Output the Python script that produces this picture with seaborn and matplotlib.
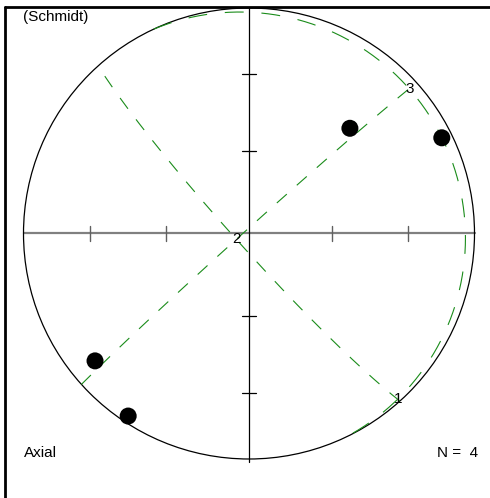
import numpy as np
import pandas as pd
import matplotlib
matplotlib.use("Agg")
import matplotlib.pyplot as plt
import seaborn as sns
from matplotlib.lines import Line2D
from matplotlib.patches import Circle

# --- data (trend / plunge in degrees, lower hemisphere) ---
point_trend = [43.8, 63.6, 230.4, 213.5]
point_plunge = [35.6, 5.1, 12.4, 3.3]

eig_labels = ["1", "2", "3"]
eig_trend = [138.0, 245.0, 48.0]
eig_plunge = [1.5, 85.0, 4.8]

tick_plunges = [60, 30]  # reference ticks along the N-S / E-W diameters

sns.set_style("white")
plt.rcParams['font.family'] = ['Liberation Sans', 'DejaVu Sans']
plt.rcParams['text.color'] = 'black'


def to_xyz(trend, plunge):
    t = np.radians(trend)
    p = np.radians(plunge)
    return np.cos(p) * np.sin(t), np.cos(p) * np.cos(t), np.sin(p)


def schmidt(x, y, z):
    # equal-area projection, primitive radius = 1
    k = 1.0 / np.sqrt(1.0 + np.asarray(z))
    return np.asarray(x) * k, np.asarray(y) * k


def great_circle(trend, plunge, n=361):
    """Great circle of the plane whose pole is (trend, plunge)."""
    pole = np.array(to_xyz(trend, plunge))
    t = np.radians(trend)
    u = np.array([np.cos(t), -np.sin(t), 0.0])
    v = np.cross(pole, u)
    v /= np.linalg.norm(v)
    if v[2] < 0:
        v = -v
    a = np.linspace(0, np.pi, n)
    pts = np.outer(np.cos(a), u) + np.outer(np.sin(a), v)
    gx, gy = schmidt(pts[:, 0], pts[:, 1], pts[:, 2])
    return pd.DataFrame({"x": gx, "y": gy, "order": np.arange(n)})


# figure: 490 x 498 px, primitive centre at (249, 233.5) px, radius 225.5 px
R_PX = 225.5
fig = plt.figure(figsize=(4.9, 4.98), dpi=100)
ax = fig.add_axes([0, 0, 1, 1])
ax.set_xlim(-249 / R_PX, (490 - 249) / R_PX)
ax.set_ylim(-(498 - 233.5) / R_PX, 233.5 / R_PX)
ax.axis('off')

# primitive circle and diameters
ax.add_patch(Circle((0, 0), 1.0, fill=False, edgecolor="black", lw=0.9, zorder=2))
ax.plot([-1, 1], [0, 0], color="#808080", lw=1.6, zorder=1)
ax.plot([0, 0], [-1.012, 1.0], color="black", lw=0.9, zorder=1)

tick_r = [np.sqrt(1 - np.sin(np.radians(p))) for p in tick_plunges]
tl = 0.032
for r in tick_r:
    for s in (-1, 1):
        ax.plot([s * r, s * r], [-tl, tl], color="#606060", lw=1.0, zorder=1)
        ax.plot([-tl, tl], [s * r, s * r], color="black", lw=0.9, zorder=1)

# eigen planes (great circles normal to each eigenvector)
dash_styles = [(0, (12, 12)), (0, (17, 16)), (0, (12, 12))]
for tr, pl, ls in zip(eig_trend, eig_plunge, dash_styles):
    gc = great_circle(tr, pl)
    sns.lineplot(data=gc, x="x", y="y", sort=False, estimator=None,
                 color="#1a8c1a", lw=0.8, linestyle=ls, ax=ax, zorder=3)

# eigenvector labels
ex, ey = schmidt(*to_xyz(np.array(eig_trend), np.array(eig_plunge)))
for lab, x, y in zip(eig_labels, ex, ey):
    ax.text(x, y, lab, ha="center", va="center", fontsize=11,
            color="black", zorder=5)

# data points
px, py = schmidt(*to_xyz(np.array(point_trend), np.array(point_plunge)))
pts = pd.DataFrame({"x": px, "y": py})
sns.scatterplot(data=pts, x="x", y="y", color="black", s=150,
                edgecolor="none", ax=ax, zorder=4)
ax.set_xlabel("")
ax.set_ylabel("")

# annotations
ax.text(23 / 490, 1 - 17.5 / 498, "(Schmidt)", transform=ax.transAxes,
        ha="left", va="center", fontsize=11, color="black")
ax.text(24 / 490, 1 - 453 / 498, "Axial", transform=ax.transAxes,
        ha="left", va="center", fontsize=11, color="black")
ax.text(478 / 490, 1 - 453 / 498, "N =  4", transform=ax.transAxes,
        ha="right", va="center", fontsize=11, color="black")

# partial frame (top and left edges)
fig.add_artist(Line2D([5 / 490, 1.0], [1 - 7 / 498, 1 - 7 / 498],
                      transform=fig.transFigure, color="black", lw=2.0))
fig.add_artist(Line2D([5 / 490, 5 / 490], [0.0, 1 - 7 / 498],
                      transform=fig.transFigure, color="black", lw=2.0))

fig.savefig("out.png", dpi=100)
